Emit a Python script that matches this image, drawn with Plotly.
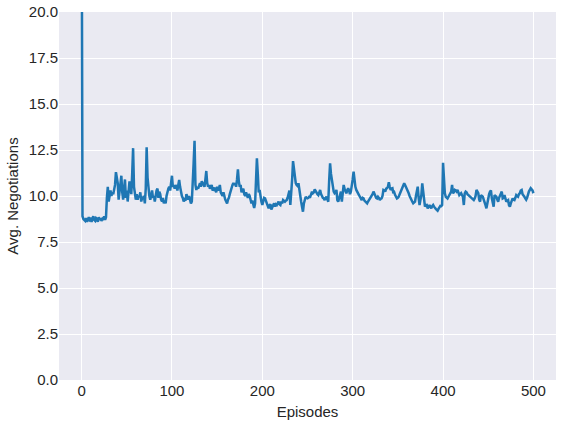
import plotly.graph_objects as go

# average negotiations per episode
avg_negotiations = [
    28.0, 8.9, 8.75, 8.7, 8.65, 8.8, 8.6, 8.7, 8.85, 8.7,
    8.75, 8.6, 8.8, 8.9, 8.7, 8.65, 8.8, 8.75, 8.6, 8.85,
    8.7, 8.8, 8.65, 8.75, 8.7, 8.9, 8.7, 8.85, 9.9, 10.5,
    9.7, 10.1, 10.3, 10.0, 10.2, 10.1, 10.3, 10.6, 11.3, 10.9,
    10.7, 9.8, 10.2, 10.7, 11.1, 10.2, 9.8, 10.4, 10.9, 9.9,
    10.3, 9.7, 10.2, 10.8, 10.4, 10.1, 11.2, 12.6, 10.5, 10.0,
    9.8, 10.1, 9.8, 10.0, 9.95, 10.2, 9.7, 9.9, 9.9, 10.0,
    9.6, 10.4, 12.65, 11.0, 10.3, 10.0, 9.8, 10.1, 10.3, 9.9,
    10.0, 9.7, 10.1, 10.3, 10.4, 9.9, 10.23, 10.1, 9.8, 9.7,
    9.9, 9.6, 9.75, 9.6, 10.0, 10.3, 10.4, 10.5, 10.3, 10.7,
    11.1, 10.5, 10.6, 10.4, 10.6, 10.5, 10.3, 10.6, 10.87, 10.5,
    10.2, 10.0, 9.9, 9.7, 9.8, 9.75, 10.1, 9.9, 9.8, 10.0,
    9.7, 9.6, 9.7, 10.5, 11.8, 13.0, 10.6, 10.33, 10.5, 10.4,
    10.6, 10.7, 10.5, 10.8, 10.7, 10.6, 10.5, 10.9, 11.36, 10.7,
    10.5, 10.6, 10.4, 10.5, 10.6, 10.3, 10.35, 10.45, 10.3, 10.2,
    10.5, 10.3, 10.4, 10.6, 10.2, 10.1, 10.0, 10.2, 9.95, 9.8,
    9.7, 9.6, 9.8, 9.9, 10.1, 10.3, 10.5, 10.6, 10.7, 10.6,
    10.7, 10.5, 10.9, 11.45, 10.8, 10.5, 10.6, 10.2, 10.3, 10.4,
    10.1, 10.0, 10.2, 10.0, 9.9, 10.1, 10.0, 9.8, 9.6, 9.75,
    9.5, 9.35, 9.6, 10.5, 12.05, 11.2, 10.2, 10.33, 9.9, 9.69,
    9.51, 9.7, 9.9, 9.87, 9.75, 9.6, 9.45, 9.33, 9.5, 9.55,
    9.27, 9.45, 9.5, 9.6, 9.42, 9.55, 9.51, 9.6, 9.69, 9.55,
    9.51, 9.69, 9.6, 9.78, 9.7, 9.69, 9.75, 9.78, 9.9, 10.05,
    10.3, 9.51, 10.0, 10.9, 11.9, 11.5, 10.97, 10.7, 10.6, 10.55,
    10.69, 10.23, 9.9, 9.69, 9.4, 9.15, 9.6, 9.87, 9.96, 9.9,
    9.87, 9.9, 9.96, 9.95, 10.1, 10.24, 10.15, 10.2, 10.36, 10.25,
    10.15, 10.1, 10.05, 10.2, 10.33, 10.1, 9.96, 9.9, 9.87, 9.78,
    9.9, 9.96, 9.8, 9.69, 10.87, 11.78, 11.2, 10.87, 10.4, 10.24,
    10.15, 10.2, 10.33, 9.78, 9.69, 9.9, 9.96, 10.24, 9.69, 10.1,
    10.6, 10.4, 10.2, 10.15, 10.3, 10.42, 10.3, 10.1, 10.24, 10.5,
    10.9, 11.32, 10.7, 10.5, 10.33, 10.2, 10.1, 10.05, 9.96, 9.9,
    9.78, 9.9, 9.87, 9.75, 9.69, 9.65, 9.6, 9.7, 9.78, 9.87,
    9.9, 10.05, 10.1, 10.24, 10.1, 9.96, 9.9, 9.87, 9.96, 9.9,
    9.78, 9.85, 9.87, 10.0, 10.33, 10.3, 10.24, 10.4, 10.42, 10.5,
    10.75, 10.5, 10.33, 10.4, 10.42, 10.15, 10.2, 10.05, 9.96, 9.87,
    9.9, 9.96, 10.1, 10.24, 10.35, 10.42, 10.6, 10.69, 10.6, 10.5,
    10.33, 10.24, 10.15, 10.0, 9.87, 9.78, 9.69, 9.6, 9.65, 9.69,
    10.0, 10.42, 10.51, 9.9, 9.51, 9.8, 10.05, 10.69, 10.3, 9.96,
    9.42, 9.5, 9.51, 9.33, 9.45, 9.51, 9.4, 9.33, 9.45, 9.51,
    9.42, 9.33, 9.3, 9.25, 9.2, 9.3, 9.42, 9.46, 9.45, 9.51,
    11.81, 10.5, 10.15, 9.96, 9.9, 9.87, 9.96, 10.05, 10.15, 10.24,
    10.6, 10.15, 10.2, 10.33, 10.3, 10.24, 10.33, 10.2, 10.05, 10.1,
    10.15, 10.05, 9.96, 9.51, 10.15, 10.24, 10.2, 10.1, 10.05, 10.0,
    9.96, 9.9, 9.87, 9.8, 9.78, 9.87, 10.0, 10.33, 10.2, 10.15,
    9.8, 9.69, 10.05, 10.0, 9.96, 9.8, 9.69, 9.5, 9.33, 9.6,
    9.96, 10.1, 10.24, 10.3, 9.87, 9.6, 9.42, 10.05, 10.0, 9.96,
    9.8, 9.69, 9.9, 10.05, 10.2, 10.24, 9.87, 9.9, 10.05, 9.8,
    9.69, 9.75, 9.78, 9.5, 9.42, 9.6, 9.7, 9.87, 9.8, 9.78,
    9.9, 10.05, 10.0, 9.96, 10.1, 10.15, 10.3, 10.33, 10.1, 10.05,
    9.96, 9.87, 9.8, 9.9, 10.15, 10.24, 10.33, 10.42, 10.36, 10.3,
    10.15,
]
episodes = list(range(len(avg_negotiations)))

x_ticks = [0, 100, 200, 300, 400, 500]
y_ticks = [0, 2.5, 5, 7.5, 10, 12.5, 15, 17.5, 20]

FONT = "Liberation Sans, Arial, sans-serif"

fig = go.Figure(
    go.Scatter(
        x=episodes,
        y=avg_negotiations,
        mode="lines",
        line=dict(color="#1f77b4", width=2.5),
    )
)

fig.update_layout(
    width=566,
    height=426,
    margin=dict(l=59, r=10, t=12, b=46, autoexpand=False),
    paper_bgcolor="white",
    plot_bgcolor="#EAEAF2",
    showlegend=False,
    font=dict(family=FONT, color="#262626", size=15),
)

fig.update_xaxes(
    range=[-25, 525],
    tickvals=x_ticks,
    showgrid=True,
    gridcolor="white",
    gridwidth=1.3,
    zeroline=False,
    ticks="",
    automargin=False,
    title=dict(text="Episodes", font=dict(size=15), standoff=8),
)
fig.update_yaxes(
    range=[0, 20],
    tickvals=y_ticks,
    tickformat=".1f",
    showgrid=True,
    gridcolor="white",
    gridwidth=1.3,
    zeroline=False,
    ticks="",
    automargin=False,
    title=dict(text="Avg. Negotiations", font=dict(size=15), standoff=6),
)

# drop the browser's default body margin so the figure sits at the page corner
fig.write_html(
    "out.html",
    config={"displayModeBar": False},
    post_script="document.body.style.margin='0';",
)
